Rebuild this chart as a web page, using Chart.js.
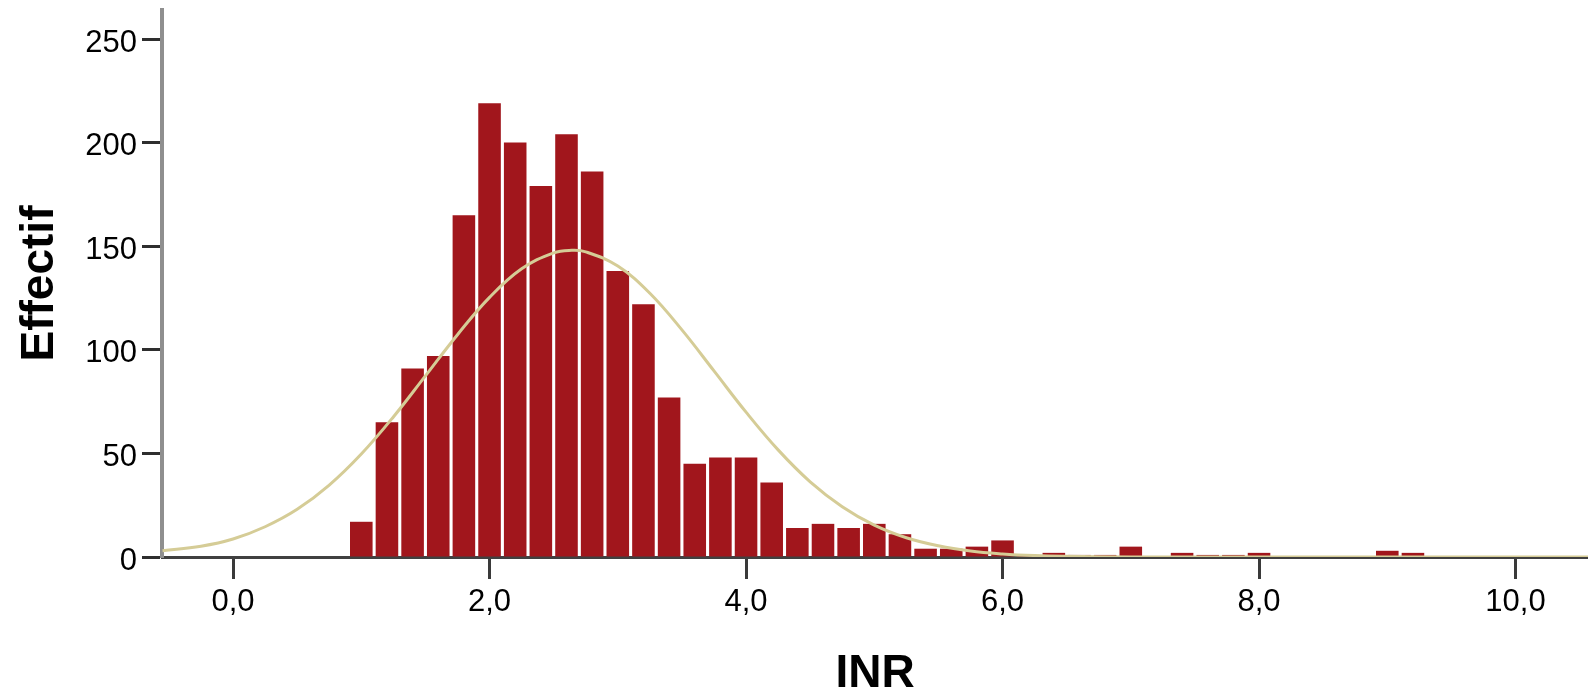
<!DOCTYPE html>
<html>
<head>
<meta charset="utf-8">
<title>INR</title>
<script src="https://cdn.jsdelivr.net/npm/chart.js@4.4.1/dist/chart.umd.min.js"></script>
<style>
  html, body { margin: 0; padding: 0; background: #fff; overflow: hidden; }
  canvas { display: block; }
</style>
</head>
<body>
<canvas id="inrChart" width="1588" height="690"></canvas>
<script>
// histogram bins (centre of each 0,2 wide bin) and counts
const binCenters = [1.0, 1.2, 1.4, 1.6, 1.8, 2.0, 2.2, 2.4, 2.6, 2.8,
  3.0, 3.2, 3.4, 3.6, 3.8, 4.0, 4.2, 4.4, 4.6, 4.8,
  5.0, 5.2, 5.4, 5.6, 5.8, 6.0, 6.2, 6.4, 6.6, 6.8,
  7.0, 7.2, 7.4, 7.6, 7.8, 8.0, 8.2, 8.4, 8.6, 8.8,
  9.0, 9.2];
const binCounts = [17, 65, 91, 97, 165, 219, 200, 179, 204, 186,
  138, 122, 77, 45, 48, 48, 36, 14, 16, 14,
  16, 11, 4, 4, 5, 8, 1, 2, 1, 1,
  5, 0, 2, 1, 1, 2, 0, 0, 0, 0,
  3, 2];

// normal curve, points
const curveX = [-0.55, -0.25, 0, 0.25, 0.5, 0.75, 1.0, 1.25, 1.5, 1.75,
  2.0, 2.25, 2.5, 2.64, 2.75, 3.0, 3.25, 3.5, 3.75, 4.0, 4.25,
  4.5, 4.75, 5.0, 5.25, 5.5, 5.75, 6.0, 6.25, 6.5, 7.0,
  8.0, 9.0, 10.57];
const curveY = [3, 5.2, 8.7, 14.6, 23, 34.7, 49.7, 67.6, 87.4, 107.3,
  125.3, 139.1, 146.8, 148, 147.3, 140.4, 127.3, 109.6, 89.8, 69.9, 51.7,
  36.3, 24.3, 15.4, 9.3, 5.4, 2.9, 1.5, 0.7, 0.35, 0.05,
  0, 0, 0];

const xTickValues = [0, 2, 4, 6, 8, 10];
const xTickLabels = ['0,0', '2,0', '4,0', '6,0', '8,0', '10,0'];
const yTickValues = [0, 50, 100, 150, 200, 250];

const FONT = "'Liberation Sans', Arial, sans-serif";

const ctx = document.getElementById('inrChart').getContext('2d');

let inrChart = new Chart(ctx, {
  type: 'bar',
  data: {
    datasets: [
      {
        type: 'line',
        label: 'Normal',
        data: curveX.map((x, i) => ({ x: x, y: curveY[i] })),
        borderColor: '#d5cc96',
        borderWidth: 3,
        pointRadius: 0,
        fill: false,
        tension: 0.4,
        order: 0
      },
      {
        label: 'Effectif',
        data: binCenters.map((x, i) => ({ x: x, y: binCounts[i] })),
        backgroundColor: '#a1161c',
        borderWidth: 0,
        barPercentage: 0.88,
        categoryPercentage: 1,
        order: 1
      }
    ]
  },
  options: {
    responsive: false,
    devicePixelRatio: 1,
    animation: false,
    layout: { padding: { top: 10, right: 0, bottom: 0, left: 0 } },
    plugins: {
      legend: { display: false },
      tooltip: { enabled: false }
    },
    scales: {
      x: {
        type: 'linear',
        min: -0.554,
        max: 10.565,
        offset: false,
        afterFit: s => { s.height = 133; s.paddingLeft = 0; s.paddingRight = 0; },
        afterBuildTicks: s => { s.ticks = xTickValues.map(v => ({ value: v })); },
        ticks: {
          color: '#000',
          font: { family: FONT, size: 31 },
          padding: 5,
          maxRotation: 0,
          callback: (v, i) => xTickLabels[i]
        },
        grid: {
          offset: false,
          drawOnChartArea: false,
          drawTicks: true,
          tickLength: 22,
          tickColor: '#3a3a3a',
          tickWidth: 3
        },
        border: { color: '#404040', width: 3 },
        title: {
          display: true,
          text: 'INR',
          color: '#000',
          font: { family: FONT, size: 46, weight: 'bold', lineHeight: 0.6 },
          padding: { top: 0, bottom: 2 }
        }
      },
      y: {
        min: 0,
        max: 264,
        afterFit: s => { s.width = 162; s.paddingTop = 0; s.paddingBottom = 0; },
        afterBuildTicks: s => { s.ticks = yTickValues.map(v => ({ value: v })); },
        ticks: {
          color: '#000',
          font: { family: FONT, size: 31 },
          padding: 5,
          labelOffset: 4
        },
        grid: {
          drawOnChartArea: false,
          drawTicks: true,
          tickLength: 20,
          tickColor: '#2e2e2e',
          tickWidth: 3
        },
        border: { color: '#8f8f8f', width: 4 },
        title: {
          display: true,
          text: 'Effectif',
          color: '#000',
          font: { family: FONT, size: 46, weight: 'bold', lineHeight: 1 },
          padding: { top: 17, bottom: 0 }
        }
      }
    }
  }
});
</script>
</body>
</html>
